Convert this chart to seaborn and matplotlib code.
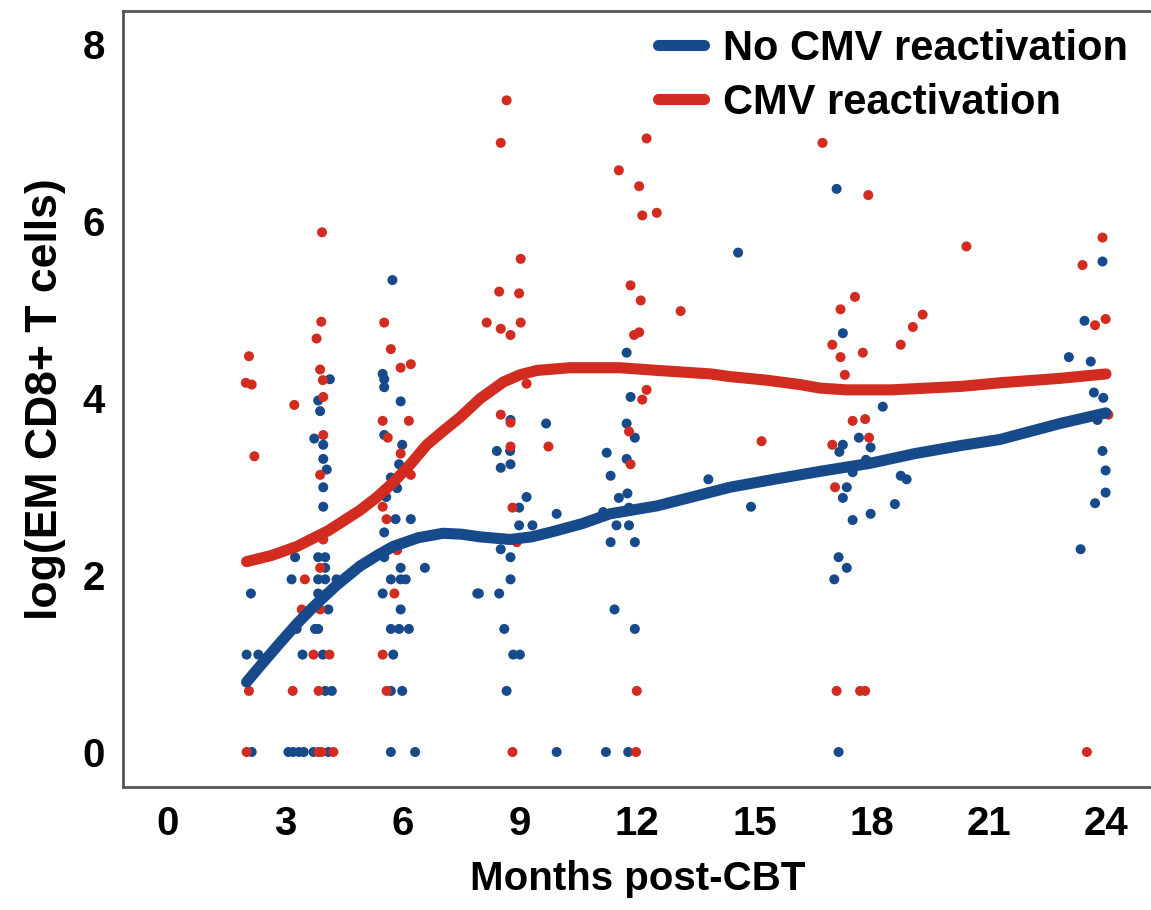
import numpy as np
import pandas as pd
import matplotlib
matplotlib.use("Agg")
import matplotlib.pyplot as plt
from matplotlib.lines import Line2D
import seaborn as sns

# --- data (months post-CBT, log count) ---
no_cmv_month = [4.14, 3.84, 3.89, 3.74, 3.97, 3.97, 4.06, 3.97, 3.97, 3.25, 3.84, 4.02, 4.02, 2.12, 3.16,
                3.84, 4.02, 4.31, 3.84, 4.06, 4.10, 3.29, 3.76, 3.84, 2.01, 2.31, 3.44, 3.96, 4.02, 4.19,
                2.14, 3.08, 3.20, 3.35, 3.47, 3.72, 4.10,
                5.74, 5.49, 5.53, 5.53, 5.95, 5.53, 5.99, 5.91, 5.70, 5.86, 5.58, 5.82, 6.21, 5.53, 5.53,
                5.95, 6.57, 5.70, 5.95, 6.08, 5.49, 7.91, 5.95, 5.70, 5.91, 6.16, 5.76, 5.70, 5.99, 5.70, 6.32,
                8.76, 9.67, 8.41, 8.75, 8.51, 8.76, 9.17, 8.98, 9.94, 8.98, 9.32, 8.51, 8.76, 8.76, 7.95,
                8.47, 8.60, 8.83, 9.00, 8.66, 9.94, 11.20,
                11.73, 11.83, 11.73, 11.94, 11.22, 11.73, 11.32, 11.53, 11.75, 11.13, 11.79, 11.47, 11.79,
                11.32, 11.94, 11.42, 11.94, 11.77, 13.82, 14.91, 14.58,
                17.10, 17.26, 18.28, 17.67, 17.26, 17.17, 17.97, 17.85, 17.51, 18.74, 18.89, 17.36, 17.26,
                18.59, 17.51, 17.97, 17.15, 17.36, 17.04, 17.15,
                23.90, 23.44, 23.04, 23.60, 23.68, 23.92, 23.77, 23.90, 23.98, 23.98, 23.71, 23.34]
no_cmv_value = [4.21, 3.97, 3.85, 3.54, 3.47, 3.31, 3.19, 2.99, 2.77, 2.20, 2.20, 2.20, 2.08, 1.79, 1.95,
                1.95, 1.95, 1.95, 1.79, 1.79, 1.61, 1.39, 1.39, 1.39, 1.10, 1.10, 1.10, 1.10, 0.69, 0.69,
                0, 0, 0, 0, 0, 0, 0,
                5.33, 4.27, 4.21, 4.12, 3.96, 3.58, 3.47, 3.25, 3.10, 2.98, 2.88, 2.63, 2.63, 2.48, 2.20,
                2.08, 2.08, 1.95, 1.95, 1.95, 1.79, 1.79, 1.61, 1.39, 1.39, 1.39, 1.10, 0.69, 0.69, 0, 0,
                3.75, 3.71, 3.40, 3.40, 3.21, 3.25, 2.88, 2.76, 2.69, 2.56, 2.56, 2.29, 2.20, 1.95, 1.79,
                1.79, 1.39, 1.10, 1.10, 0.69, 0, 0,
                4.51, 4.01, 3.71, 3.55, 3.38, 3.31, 3.12, 2.87, 2.92, 2.71, 2.76, 2.56, 2.56,
                2.37, 2.37, 1.61, 1.39, 0, 3.08, 2.77, 5.64,
                6.36, 4.73, 3.90, 3.55, 3.47, 3.39, 3.44, 3.30, 3.16, 3.12, 3.08, 2.99, 2.87,
                2.80, 2.62, 2.69, 2.20, 2.08, 1.95, 0,
                5.54, 4.87, 4.46, 4.41, 4.06, 4.00, 3.75, 3.40, 3.18, 2.93, 2.81, 2.29]

cmv_month = [3.80, 3.92, 3.94, 2.07, 3.89, 1.99, 2.14, 3.96, 3.97, 3.23, 3.97, 2.21, 3.89, 3.97, 3.89,
             3.50, 3.42, 3.89, 3.72, 4.13, 2.07, 3.19, 3.85, 2.01, 3.85, 3.93, 4.23,
             5.53, 5.70, 5.95, 6.21, 5.49, 6.16, 5.62, 5.95, 6.21, 5.49, 5.59, 5.86, 5.79, 5.49, 5.59,
             8.66, 8.51, 9.02, 8.47, 8.98, 8.15, 8.51, 8.76, 9.02, 9.17, 8.51, 8.76, 9.73, 8.76, 8.81,
             8.92, 8.81,
             12.24, 11.53, 12.05, 12.13, 12.50, 11.83, 12.09, 13.11, 11.92, 12.05, 12.24, 12.13, 11.79,
             11.83, 11.99, 11.97, 15.18,
             16.74, 17.91, 17.57, 17.20, 19.30, 19.05, 16.99, 18.74, 17.20, 17.77, 17.31, 17.51, 17.83,
             17.93, 16.99, 17.06, 17.10, 17.70, 17.83, 20.42,
             23.90, 23.39, 23.71, 23.98, 24.05, 23.50]
cmv_value = [4.67, 4.86, 5.87, 4.47, 4.32, 4.17, 4.15, 4.20, 4.01, 3.92, 3.58, 3.34, 3.13, 2.40, 2.08,
             1.95, 1.61, 1.61, 1.10, 1.10, 0.69, 0.69, 0.69, 0, 0, 0, 0,
             4.85, 4.55, 4.34, 4.38, 3.74, 3.74, 3.55, 3.37, 3.13, 2.77, 2.63, 2.28, 1.79, 1.10, 0.69,
             7.36, 6.88, 5.57, 5.20, 5.18, 4.85, 4.78, 4.71, 4.85, 4.16, 3.81, 3.72, 3.45, 3.45, 2.76,
             2.37, 0,
             6.93, 6.57, 6.39, 6.06, 6.09, 5.27, 5.10, 4.98, 4.71, 4.74, 4.09, 3.98, 3.62,
             3.25, 0.69, 0, 3.51,
             6.88, 6.29, 5.14, 5.00, 4.94, 4.80, 4.60, 4.60, 4.46, 4.51, 4.26, 3.74, 3.76,
             3.55, 3.47, 2.99, 0.69, 0.69, 0.69, 5.71,
             5.81, 5.50, 4.82, 4.89, 3.81, 0]

# smoothed trend curves as drawn in the figure
no_cmv_fit_month = [2.01, 2.45, 2.86, 3.30, 3.72, 4.30, 4.91, 5.35, 5.75, 6.40, 7.03, 7.50, 7.98, 8.75,
                    9.30, 9.85, 10.60, 11.30, 12.51, 13.40, 14.37, 15.50, 16.68, 17.95, 19.10, 20.26,
                    21.28, 22.81, 23.99]
no_cmv_fit_value = [0.79, 1.02, 1.23, 1.45, 1.64, 1.88, 2.10, 2.22, 2.32, 2.42, 2.47, 2.46, 2.43, 2.40,
                    2.43, 2.49, 2.58, 2.69, 2.78, 2.88, 2.99, 3.08, 3.17, 3.26, 3.37, 3.46,
                    3.53, 3.71, 3.83]
cmv_fit_month = [2.01, 2.65, 3.29, 4.10, 4.91, 5.35, 5.75, 6.20, 6.62, 7.05, 7.47, 7.98, 8.58, 9.00,
                 9.44, 10.28, 11.56, 12.51, 13.88, 14.37, 15.30, 16.16, 16.68, 17.36, 18.50, 19.41,
                 20.30, 21.28, 22.81, 23.99]
cmv_fit_value = [2.15, 2.22, 2.32, 2.50, 2.73, 2.88, 3.04, 3.25, 3.47, 3.63, 3.78, 3.99, 4.18, 4.26,
                 4.31, 4.34, 4.34, 4.31, 4.27, 4.24, 4.20, 4.15, 4.11, 4.09, 4.09, 4.11,
                 4.13, 4.17, 4.22, 4.27]

groups = ["No CMV reactivation", "CMV reactivation"]
colors = {"No CMV reactivation": "#174A8B", "CMV reactivation": "#D22B1F"}
x_ticks = [0, 3, 6, 9, 12, 15, 18, 21, 24]
y_ticks = [0, 2, 4, 6, 8]

points = pd.concat([
    pd.DataFrame({"month": no_cmv_month, "value": no_cmv_value, "group": groups[0]}),
    pd.DataFrame({"month": cmv_month, "value": cmv_value, "group": groups[1]}),
])
fits = pd.concat([
    pd.DataFrame({"month": no_cmv_fit_month, "value": no_cmv_fit_value, "group": groups[0]}),
    pd.DataFrame({"month": cmv_fit_month, "value": cmv_fit_value, "group": groups[1]}),
])

sns.set_style("white")
plt.rcParams['font.family'] = ['Liberation Sans', 'DejaVu Sans']
plt.rcParams['font.weight'] = 'bold'
plt.rcParams['text.color'] = 'black'
plt.rcParams['axes.labelcolor'] = 'black'

fig = plt.figure(figsize=(11.51, 9.10), dpi=100)
ax = fig.add_axes([0.1069, 0.1352, 1.001 - 0.1069, 0.988 - 0.1352])

sns.scatterplot(data=points, x="month", y="value", hue="group", palette=colors,
                s=52, edgecolor="none", legend=False, ax=ax, zorder=2)
sns.lineplot(data=fits, x="month", y="value", hue="group", palette=colors,
             linewidth=8, legend=False, ax=ax, zorder=3, sort=True)

ax.set_xlim(-1.15, 25.17)
ax.set_ylim(-0.395, 8.37)
ax.set_xticks(x_ticks)
ax.set_yticks(y_ticks)
ax.tick_params(axis="both", labelsize=29, length=7, width=2, color="#555555",
               labelcolor="black", direction="out", pad=6)
for lbl in ax.get_xticklabels() + ax.get_yticklabels():
    lbl.set_fontweight("bold")
for sp in ax.spines.values():
    sp.set_color("#555555")
    sp.set_linewidth(2)

ax.set_xlabel("Months post-CBT", fontsize=29, fontweight="bold", labelpad=12)
ax.set_ylabel("log(EM CD8+ T cells)", fontsize=32, fontweight="bold", labelpad=12)

handles = [Line2D([0], [0], color=colors[g], linewidth=8) for g in groups]
leg = ax.legend(handles, groups, loc="upper right", bbox_to_anchor=(1128 / 1151, 1 - 29 / 910),
                bbox_transform=fig.transFigure, frameon=False, fontsize=30,
                handlelength=1.1, handletextpad=0.45, labelspacing=0.33, borderpad=0,
                borderaxespad=0)
for t in leg.get_texts():
    t.set_fontweight("bold")

fig.savefig("out.png", dpi=100)
